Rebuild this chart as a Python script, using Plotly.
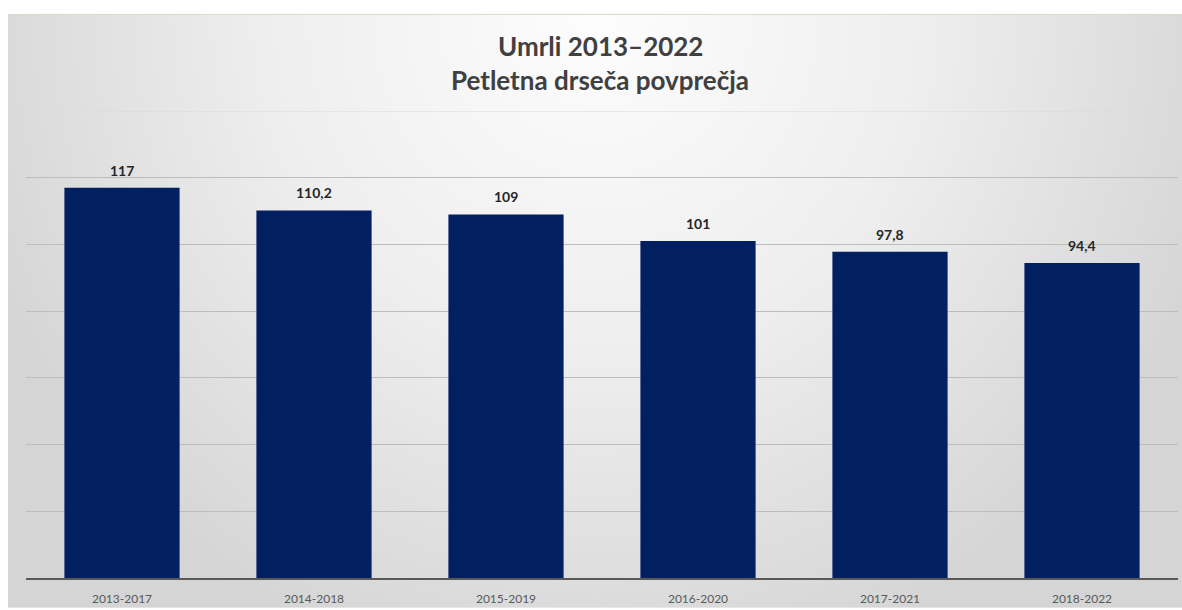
import base64
import plotly.graph_objects as go

# Five-year moving averages of deaths
periods = ["2013-2017", "2014-2018", "2015-2019", "2016-2020", "2017-2021", "2018-2022"]
deaths_avg = [117, 110.2, 109, 101, 97.8, 94.4]
bar_labels = [f"{v:g}".replace(".", ",") for v in deaths_avg]

title_line1 = "Umrli 2013–2022"
title_line2 = "Petletna drseča povprečja"

Y_MAX = 140
W, H = 1182, 610
ML, MR, MT, MB = 26, 4, 111, 30
plot_w = W - ML - MR
plot_h = H - MT - MB


def px_to_paper_x(px):
    return (px - ML) / plot_w


def px_to_paper_y(py):
    return (H - MB - py) / plot_h


# Soft radial gradient backdrop, lighter at the top centre
svg = """<svg xmlns='http://www.w3.org/2000/svg' width='1174' height='596' viewBox='0 0 100 100' preserveAspectRatio='none'>
<defs><radialGradient id='g' gradientUnits='userSpaceOnUse' cx='50' cy='0' r='56'
 gradientTransform='translate(50 0) scale(1 2.05) translate(-50 0)'>
<stop offset='0' stop-color='#fdfdfd'/>
<stop offset='0.5' stop-color='#eeeeee'/>
<stop offset='1' stop-color='#d5d5d5'/>
</radialGradient></defs>
<rect x='0' y='0' width='100' height='100' fill='url(#g)'/>
</svg>"""
bg_uri = "data:image/svg+xml;base64," + base64.b64encode(svg.encode()).decode()

fig = go.Figure(
    go.Bar(
        x=periods,
        y=deaths_avg,
        marker=dict(color="#022060", line=dict(width=0)),
        hoverinfo="x+y",
    )
)

# Value labels sitting above each bar
label_annotations = [
    dict(
        x=p, y=v, xref="x", yref="y", text=t,
        xanchor="center", yanchor="bottom", yshift=7, showarrow=False,
        font=dict(family="Lato", size=14, color="#262626", weight="bold"),
    )
    for p, v, t in zip(periods, deaths_avg, bar_labels)
]

title_font = dict(family="Lato", size=26, color="#404040", weight="bold")

fig.update_layout(
    width=W,
    height=H,
    margin=dict(l=ML, r=MR, t=MT, b=MB),
    paper_bgcolor="white",
    plot_bgcolor="rgba(0,0,0,0)",
    bargap=0.4,
    showlegend=False,
    images=[
        dict(
            source=bg_uri,
            xref="paper", yref="paper",
            x=px_to_paper_x(8), y=px_to_paper_y(14),
            sizex=px_to_paper_x(W) - px_to_paper_x(8),
            sizey=px_to_paper_y(14) - px_to_paper_y(H),
            xanchor="left", yanchor="top",
            sizing="stretch", layer="below",
        )
    ],
    shapes=[
        dict(
            type="line", xref="paper", yref="paper",
            x0=px_to_paper_x(8), x1=px_to_paper_x(W),
            y0=px_to_paper_y(14), y1=px_to_paper_y(14),
            line=dict(color="#d6d9cb", width=1),
        ),
        # top gridline at the axis maximum
        dict(
            type="line", xref="paper", yref="y",
            x0=0, x1=1, y0=Y_MAX, y1=Y_MAX,
            line=dict(color="#d9d9d9", width=1), layer="below",
        ),
    ],
    annotations=[
        dict(
            text=title_line1, xref="paper", yref="paper",
            x=px_to_paper_x(600), y=px_to_paper_y(46),
            xanchor="center", yanchor="middle", showarrow=False,
            font=title_font,
        ),
        dict(
            text=title_line2, xref="paper", yref="paper",
            x=px_to_paper_x(600), y=px_to_paper_y(80),
            xanchor="center", yanchor="middle", showarrow=False,
            font=title_font,
        ),
    ] + label_annotations,
)

fig.update_xaxes(
    showline=True,
    linecolor="#595959",
    linewidth=2,
    showgrid=False,
    ticks="",
    ticklabelstandoff=9,
    tickfont=dict(family="Lato", size=12, color="#595959"),
)
fig.update_yaxes(
    range=[0, Y_MAX],
    dtick=20,
    showgrid=True,
    gridcolor="#bdbdbd",
    gridwidth=1,
    zeroline=False,
    showticklabels=False,
    ticks="",
)

fig.write_html("out.html")
